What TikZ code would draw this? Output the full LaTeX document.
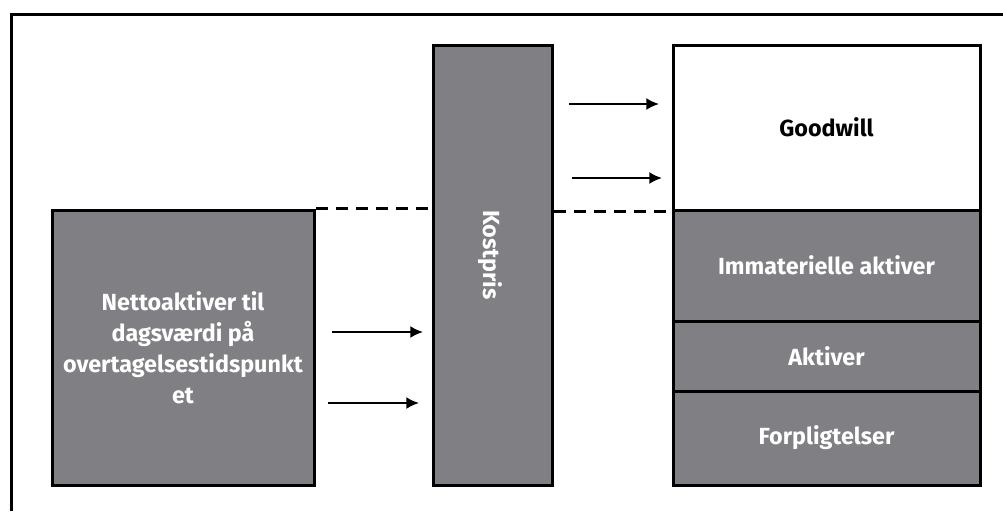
\documentclass[tikz,border=0pt]{standalone}
\usepackage{fontspec}
\setmainfont{Fira Sans}
\usetikzlibrary{arrows.meta}
\definecolor{boxgray}{RGB}{128,127,132}
\tikzstyle{block} = [rectangle, draw=black, line width=2.25pt, fill=boxgray, text=white, inner sep=0pt, align=center, font=\fontsize{17.5}{23.25}\selectfont\bfseries]
\tikzstyle{arrow} = [-{Latex[length=9.5pt,width=9pt]}, line width=1.5pt]
\tikzstyle{dashline} = [dash pattern=on 9pt off 6pt, line width=2.25pt]

\begin{document}
\begin{tikzpicture}[x=0.75pt, y=-0.75pt]
\useasboundingbox (0,0) rectangle (1003,511);
%外框
\draw[line width=2.25pt] (11.5,511) -- (11.5,14.5) -- (1003,14.5);
%定义方框
\node[block, minimum width=196.5pt, minimum height=206.25pt](netto) at (183,347.5){Nettoaktiver til\\dagsværdi på\\overtagelsestidspunkt\\et};
\node[block, minimum width=89.25pt, minimum height=330pt](kost) at (493,265){};
\node[rotate=-90, text=white, font=\fontsize{17.5}{20}\selectfont\bfseries](kosttxt) at (490,255){Kostpris};
\node[block, fill=white, text=black, minimum width=230.25pt, minimum height=123.75pt](goodwill) at (826.5,127.5){Goodwill};
\node[block, minimum width=230.25pt, minimum height=83.25pt](immat) at (826.5,265.5){Immaterielle aktiver};
\node[block, minimum width=230.25pt, minimum height=52.5pt](aktiv) at (826.5,356){Aktiver};
\node[block, minimum width=230.25pt, minimum height=70.5pt](forp) at (826.5,438){Forpligtelser};
%虚线
\draw[dashline] (netto.north east) -- (netto.north east -| kost.west);
\draw[dashline] (kost.east |- goodwill.south) -- (goodwill.south west);
%箭头
\coordinate (a1) at (569,104);
\coordinate (b1) at (659,104);
\coordinate (a2) at (572,178);
\coordinate (b2) at (662,178);
\coordinate (a3) at (332,332);
\coordinate (b3) at (423,332);
\coordinate (a4) at (328,403);
\coordinate (b4) at (419,403);
\draw [arrow] (a1) -- (b1);
\draw [arrow] (a2) -- (b2);
\draw [arrow] (a3) -- (b3);
\draw [arrow] (a4) -- (b4);
\end{tikzpicture}
\end{document}
